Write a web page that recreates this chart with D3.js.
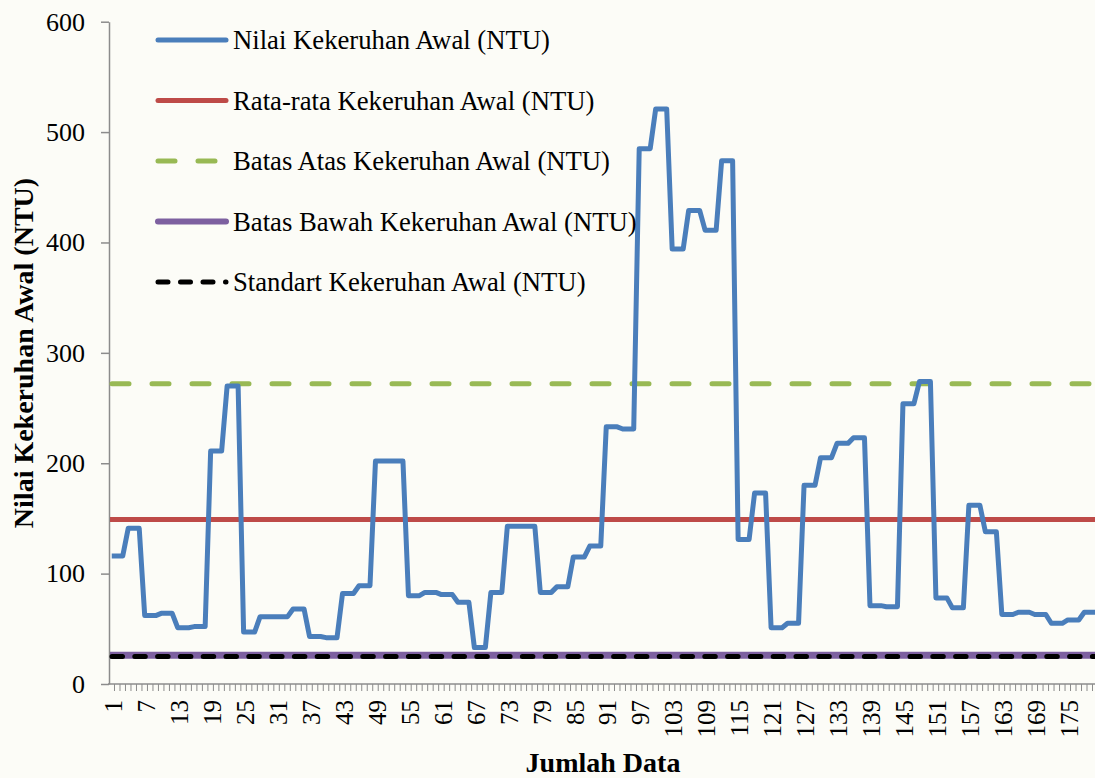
<!DOCTYPE html>
<html>
<head>
<meta charset="utf-8">
<script src="https://cdn.jsdelivr.net/npm/d3@7"></script>
<style>
  body { margin: 0; background: #fcfcf7; overflow: hidden; }
  svg { display: block; }
  text { font-family: "Liberation Serif", "Times New Roman", serif; fill: #000; }
</style>
</head>
<body>
<div class="chart"></div>
<script>
"use strict";

// nilai kekeruhan awal, tiap nilai berulang 3 kali
var kekeruhan = [
  116,116,116, 141,141,141, 62,62,62, 64,64,64, 51,51,51, 52,52,52,
  211,211,211, 270,270,270, 47,47,47, 61,61,61, 61,61,61, 68,68,68,
  43,43,43, 42,42,42, 82,82,82, 89,89,89, 202,202,202, 202,202,202,
  80,80,80, 83,83,83, 81,81,81, 74,74,74, 33,33,33, 83,83,83,
  143,143,143, 143,143,143, 83,83,83, 88,88,88, 115,115,115, 125,125,125,
  233,233,233, 231,231,231, 485,485,485, 521,521,521, 394,394,394, 429,429,429,
  411,411,411, 474,474,474, 131,131,131, 173,173,173, 51,51,51, 55,55,55,
  180,180,180, 205,205,205, 218,218,218, 223,223,223, 71,71,71, 70,70,70,
  254,254,254, 274,274,274, 78,78,78, 69,69,69, 162,162,162, 138,138,138,
  63,63,63, 65,65,65, 63,63,63, 55,55,55, 58,58,58, 65,65,65
];
var rataRata = 149;
var batasAtas = 272;
var batasBawah = 26;
var standart = 25;

var yTicks = [0, 100, 200, 300, 400, 500, 600];
var legendLabels = [
  "Nilai Kekeruhan Awal (NTU)",
  "Rata-rata Kekeruhan Awal (NTU)",
  "Batas Atas Kekeruhan Awal (NTU)",
  "Batas Bawah Kekeruhan Awal (NTU)",
  "Standart Kekeruhan Awal (NTU)"
];

var width = 1095,
    height = 778;

var svg = d3.select(".chart")
          .append("svg")
          .attr("width", width)
          .attr("height", height);

var idx = d3.range(1, kekeruhan.length + 1);

var x = d3.scaleBand()
    .domain(idx)
    .range([109, 1098]);

var y = d3.scaleLinear()
    .domain([0, 600])
    .range([684, 21.7]);

function cx(i){ return x(i) + x.bandwidth() / 2; }

var axisColor = "#8c8c8c";

// sumbu y
var yAxis = svg.append("g")
    .attr("transform", "translate(109,0)")
    .call(d3.axisLeft(y).tickValues(yTicks).tickSize(8).tickSizeOuter(0).tickPadding(16));
yAxis.selectAll("line").attr("stroke", axisColor).attr("stroke-width", 1.5);
yAxis.select(".domain").attr("stroke", axisColor).attr("stroke-width", 1.5);
yAxis.selectAll("text")
    .attr("font-family", "Liberation Serif, serif")
    .style("font-size", "26px");

// sumbu x: garis, tick kecil tiap kategori, label tiap 6
svg.append("line")
    .attr("x1", 108).attr("x2", 1095)
    .attr("y1", y(0)).attr("y2", y(0))
    .attr("stroke", axisColor).attr("stroke-width", 1.5);

svg.append("g")
    .selectAll("line")
    .data(idx)
    .enter().append("line")
        .attr("x1", function(d){ return x(d) + x.bandwidth(); })
        .attr("x2", function(d){ return x(d) + x.bandwidth(); })
        .attr("y1", y(0))
        .attr("y2", y(0) + 7)
        .attr("stroke", axisColor)
        .attr("stroke-width", 1);

svg.append("g")
    .selectAll("text")
    .data(idx.filter(function(d){ return (d - 1) % 6 === 0; }))
    .enter().append("text")
        .attr("transform", function(d){ return "translate(" + (cx(d) + 2) + "," + (y(0) + 16) + ") rotate(-90)"; })
        .attr("dy", "0.33em")
        .style("text-anchor", "end")
        .style("font-size", "25px")
        .text(function(d){ return d; });

// garis batas
var hLines = [
  { v: batasBawah, color: "#7d60a0", w: 7, dash: null },
  { v: standart,   color: "#000000", w: 5, dash: "10.5,12.3" },
  { v: rataRata,   color: "#be4b48", w: 5, dash: null },
  { v: batasAtas,  color: "#98b954", w: 5, dash: "17,23" }
];

svg.append("g")
    .selectAll("line")
    .data(hLines)
    .enter().append("line")
        .attr("x1", function(d){ return d.dash ? 112 : 110; })
        .attr("x2", 1098)
        .attr("y1", function(d){ return y(d.v); })
        .attr("y2", function(d){ return y(d.v); })
        .attr("stroke", function(d){ return d.color; })
        .attr("stroke-width", function(d){ return d.w; })
        .attr("stroke-dasharray", function(d){ return d.dash; })
        .attr("stroke-linecap", function(d){ return d.dash ? "round" : "butt"; });

// garis nilai kekeruhan
var line = d3.line()
    .x(function(d, i){ return cx(i + 1); })
    .y(function(d){ return y(d); });

svg.append("path")
    .datum(kekeruhan)
    .attr("d", line)
    .attr("fill", "none")
    .attr("stroke", "#4a7ebb")
    .attr("stroke-width", 5)
    .attr("stroke-linejoin", "round");

// legenda
var legendItems = [
  { color: "#4a7ebb", w: 5, dash: null },
  { color: "#be4b48", w: 5, dash: null },
  { color: "#98b954", w: 5, dash: "17,23" },
  { color: "#7d60a0", w: 6, dash: null },
  { color: "#000000", w: 5, dash: "10,12.5" }
];

var legend = svg.append("g")
    .selectAll("g")
    .data(legendItems)
    .enter().append("g")
        .attr("transform", function(d, i){ return "translate(0," + (40 + i * 60.5) + ")"; });

legend.append("line")
    .attr("x1", 158)
    .attr("x2", 226)
    .attr("stroke", function(d){ return d.color; })
    .attr("stroke-width", function(d){ return d.w; })
    .attr("stroke-dasharray", function(d){ return d.dash; })
    .attr("stroke-linecap", "round");

legend.append("text")
    .attr("x", 233)
    .attr("y", 9)
    .style("font-size", "26.7px")
    .text(function(d, i){ return legendLabels[i]; });

// judul sumbu
svg.append("text")
    .attr("transform", "translate(33,353) rotate(-90)")
    .style("text-anchor", "middle")
    .style("font-size", "28px")
    .style("font-weight", "bold")
    .text("Nilai Kekeruhan Awal (NTU)");

svg.append("text")
    .attr("x", 603)
    .attr("y", 772)
    .style("text-anchor", "middle")
    .style("font-size", "28px")
    .style("font-weight", "bold")
    .text("Jumlah Data");
</script>
</body>
</html>
